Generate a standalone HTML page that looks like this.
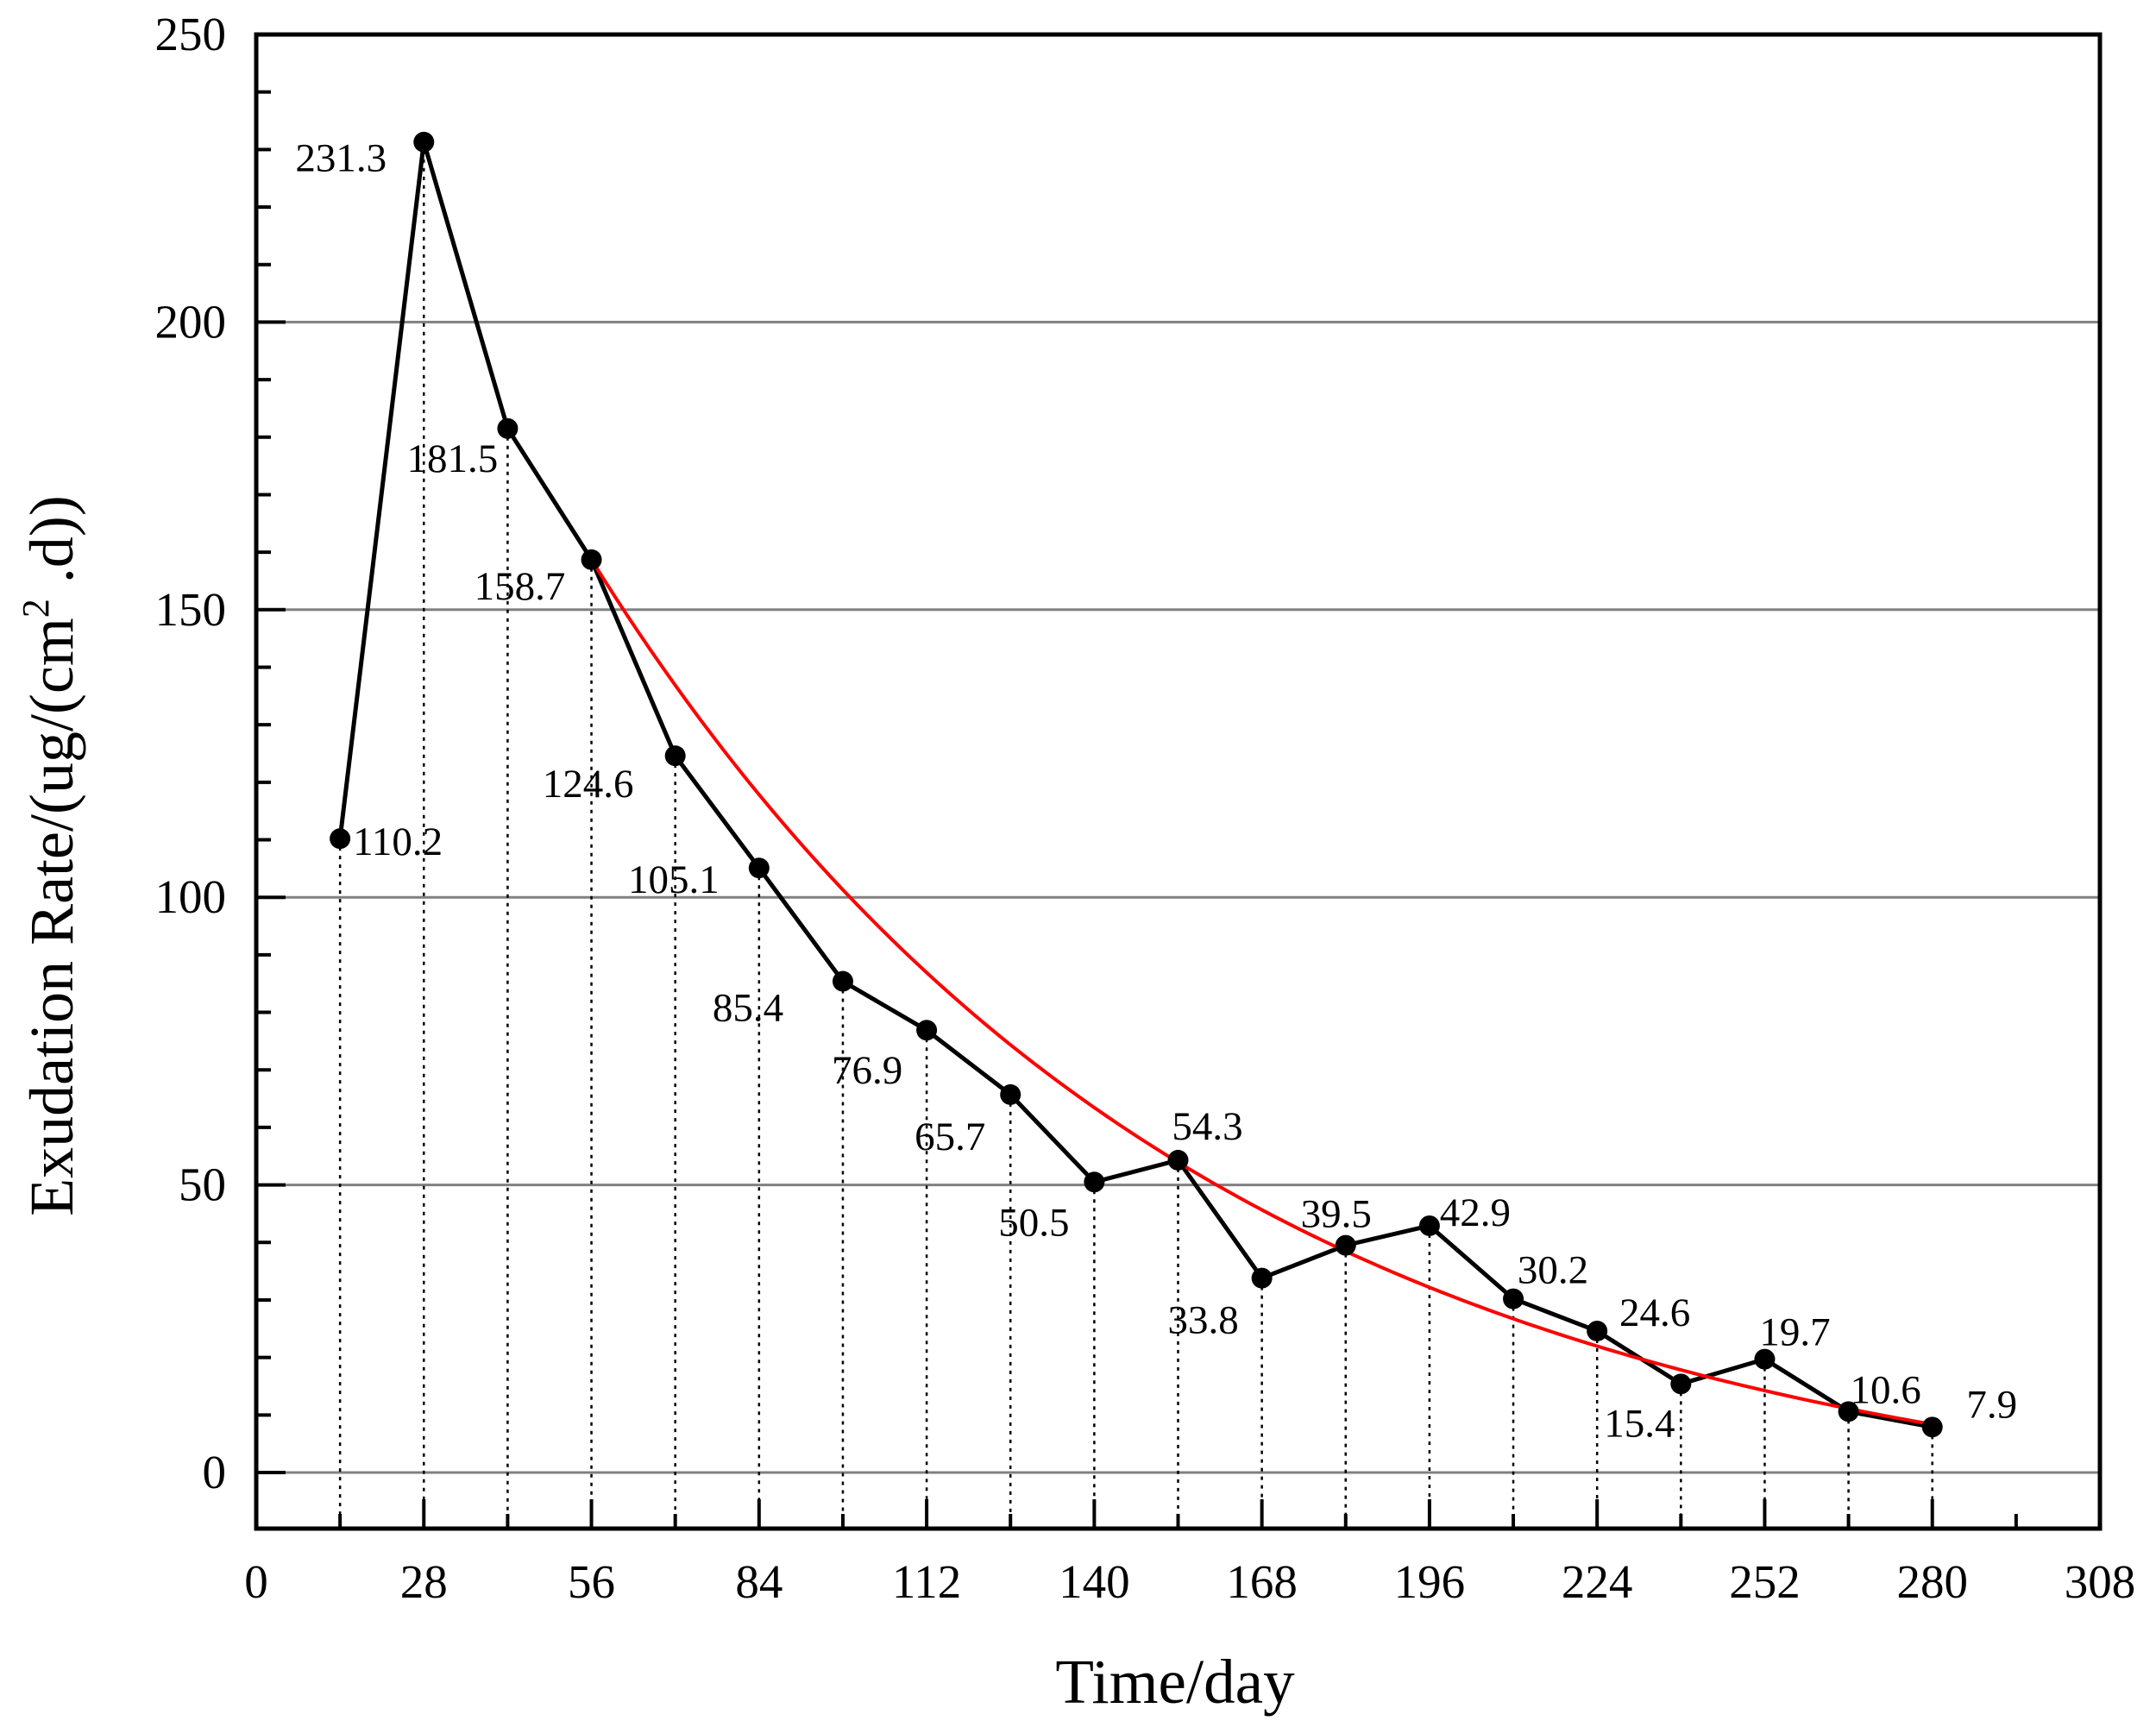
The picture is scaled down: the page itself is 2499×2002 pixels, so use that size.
<!DOCTYPE html>
<html><head><meta charset="utf-8"><style>
html,body{margin:0;padding:0;background:#fff;}
svg{display:block;font-family:"Liberation Serif",serif;}
</style></head><body>
<svg id="chart" width="2499" height="2002" viewBox="0 0 2499 2002" xmlns="http://www.w3.org/2000/svg">
<g id="grid"></g>
<g id="drops"></g>
<g id="series"></g>
<g id="axes"></g>
<g id="labels"></g>
<text x="1362" y="1974" font-size="73" text-anchor="middle">Time/day</text>
<text transform="translate(84,992) rotate(-90)" font-size="72" text-anchor="middle">Exudation Rate/(ug/(cm<tspan font-size="44" dy="-28">2</tspan><tspan dy="28"> .d))</tspan></text>
</svg>
<script>
const days = [14,28,42,56,70,84,98,112,126,140,154,168,182,196,210,224,238,252,266,280];
const rates = [110.2,231.3,181.5,158.7,124.6,105.1,85.4,76.9,65.7,50.5,54.3,33.8,39.5,42.9,30.2,24.6,15.4,19.7,10.6,7.9];
const valueLabels = ["110.2","231.3","181.5","158.7","124.6","105.1","85.4","76.9","65.7","50.5","54.3","33.8","39.5","42.9","30.2","24.6","15.4","19.7","10.6","7.9"];
const xTicks = [0,28,56,84,112,140,168,196,224,252,280,308];
const yTicks = [0,50,100,150,200,250];
const fitStart = [56];
const fitEnd = [280];
const fitParams = [-10, 168.7, 0.0099]; // y0, A, k : y = y0 + A*exp(-k*(x-56))
// label offsets (layout, px) relative to each point
const labelDX = [67,-96,-64,-83,-101,-99,-110,-69,-70,-70,34,-68,-11,53,46,67,-48,35,43,69];
const labelDY = [3,18,34,30,32,13,30,46,48,46,-40,48,-37,-16,-34,-22,45,-32,-26,-27];

const X0=297, X1=2434, Y0=1707, Y250=40, YB=1772, YT=40;
const sx = v => X0 + (v-0)/(308-0)*(X1-X0);
const sy = v => Y0 - v/250*(Y0-Y250);
const NS="http://www.w3.org/2000/svg";
function mk(tag, attrs, parent){const e=document.createElementNS(NS,tag);for(const k in attrs)e.setAttribute(k,attrs[k]);parent.appendChild(e);return e;}
const grid=document.getElementById('grid'), drops=document.getElementById('drops'), series=document.getElementById('series'), axes=document.getElementById('axes'), labels=document.getElementById('labels');

yTicks.forEach(v=>{ if(v<250){ const l=mk('line',{x1:X0,x2:X1,y1:sy(v),y2:sy(v),stroke:'#808080','stroke-width':3},grid);

 }});

days.forEach((d,i)=>{ const l=mk('line',{x1:sx(d),x2:sx(d),y1:sy(rates[i]),y2:YB,stroke:'#000','stroke-width':2.5,'stroke-dasharray':'4 6'},drops);

 });

const pts=days.map((d,i)=>sx(d)+','+sy(rates[i])).join(' ');
const pl=mk('polyline',{points:pts,fill:'none',stroke:'#000','stroke-width':5,'stroke-linejoin':'miter'},series);



let fp=[];
for(let x=fitStart[0];x<=fitEnd[0];x+=2){ fp.push(sx(x)+','+sy(fitParams[0]+fitParams[1]*Math.exp(-fitParams[2]*(x-fitStart[0])))); }
const fit=mk('polyline',{points:fp.join(' '),fill:'none',stroke:'#ff0000','stroke-width':4},series);



days.forEach((d,i)=>{ const c=mk('circle',{cx:sx(d),cy:sy(rates[i]),r:12,fill:'#000'},series);


const t=mk('text',{x:sx(d)+labelDX[i],y:sy(rates[i])+labelDY[i]+16,'font-size':47,'text-anchor':'middle'},labels);
t.textContent=valueLabels[i];

 });

const fr=mk('rect',{x:X0,y:YT,width:X1-X0,height:YB-YT,fill:'none',stroke:'#000','stroke-width':5},axes);


for(let v=0;v<=308;v+=14){ const major=v%28===0; const l=mk('line',{x1:sx(v),x2:sx(v),y1:YB,y2:YB-(major?34:17),stroke:'#000','stroke-width':4},axes);

 }
xTicks.forEach(v=>{ const t=mk('text',{x:sx(v),y:1852,'font-size':55,'text-anchor':'middle'},axes); t.textContent=v;

 });
for(let v=0;v<=250;v+=10){ const major=v%50===0; const l=mk('line',{x1:X0,x2:X0+(major?34:17),y1:sy(v),y2:sy(v),stroke:'#000','stroke-width':4},axes);

 }
yTicks.forEach(v=>{ const t=mk('text',{x:262,y:sy(v)+18,'font-size':55,'text-anchor':'end'},axes); t.textContent=v;

 });
</script>
</body></html>
